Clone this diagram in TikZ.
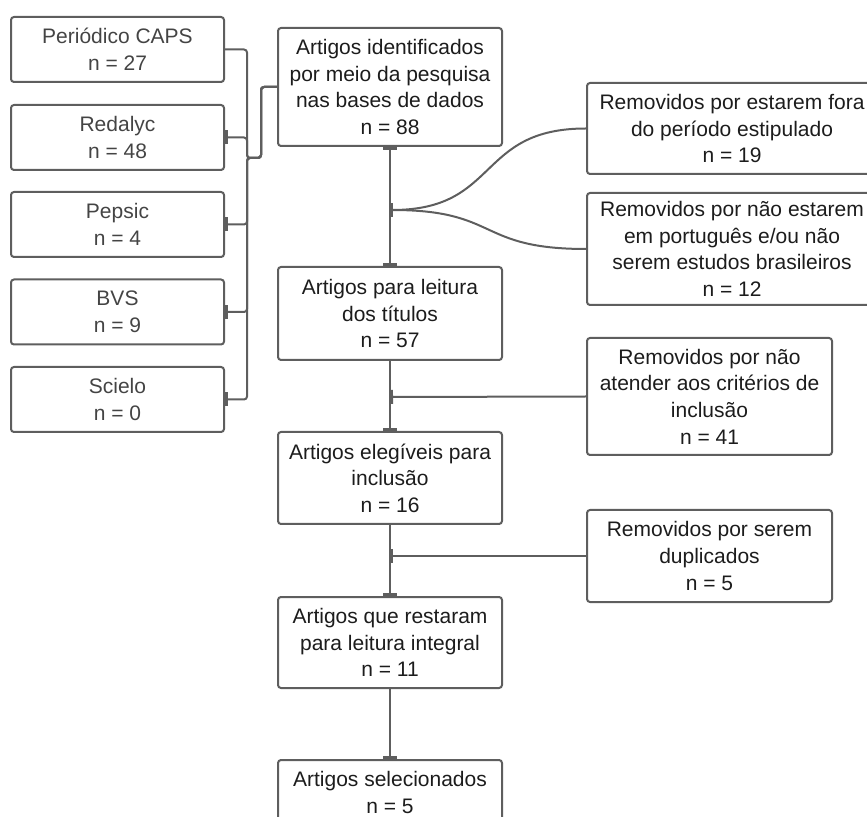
\documentclass[tikz,border=0pt]{standalone}
\usepackage{fontspec}
\setmainfont{Liberation Sans}
\usetikzlibrary{arrows.meta}
\definecolor{linegray}{HTML}{5E5E5E}
\definecolor{srctext}{HTML}{444444}
\definecolor{boxtext}{HTML}{1C1C1C}
\begin{document}
\begin{tikzpicture}[x=0.5pt, y=-0.5pt, font=\fontsize{10.5}{13.3}\selectfont,
	line join=round, line cap=round,
	box/.style={draw=linegray, line width=1pt, rounded corners=1.5pt, align=center, inner sep=0pt, text=boxtext},
	src/.style={box, minimum width=106.5pt, minimum height=32.5pt, text=srctext},
	stage/.style={box, minimum width=112pt},
	drop/.style={box, minimum width=145pt},
	dropn/.style={box, minimum width=122.5pt},
	link/.style={draw=linegray, line width=1pt, rounded corners=1.5pt},
	bartip/.tip={Rectangle[length=1.5pt,width=7pt]}]
	\useasboundingbox (0,0) rectangle (867,817);
	\clip (0,0) rectangle (867,817);
	% bases de dados
	\foreach \n/\y/\t/\v in {caps/49.5/Periódico CAPS/27, redalyc/137.5/Redalyc/48,
		pepsic/224.5/Pepsic/4, bvs/312/BVS/9, scielo/399.5/Scielo/0}
	\node[src] (\n) at (117.5,\y) {\t\\n = \v};
	% etapas
	\node[stage, minimum height=59pt] (ident) at (390,87) {Artigos identificados\\por meio da pesquisa\\nas bases de dados\\n = 88};
	\node[stage, minimum height=46.5pt] (titulos) at (390,313.5) {Artigos para leitura\\dos títulos\\n = 57};
	\node[stage, minimum height=46pt] (elegiveis) at (390,478) {Artigos elegíveis para\\inclusão\\n = 16};
	\node[stage, minimum height=45.5pt] (restaram) at (390,642.5) {Artigos que restaram\\para leitura integral\\n = 11};
	\node[stage, minimum height=32.5pt] (selec) at (390,792.5) {Artigos selecionados\\n = 5};
	% removidos
	\node[drop, minimum height=45.5pt] (fora) at (732,128.5) {Removidos por estarem fora\\do período estipulado\\n = 19};
	\node[drop, minimum height=56pt] (lingua) at (732,249) {Removidos por não estarem\\em português e/ou não\\serem estudos brasileiros\\n = 12};
	\node[dropn, minimum height=58.5pt] (criterio) at (709.5,396.5) {Removidos por não\\atender aos critérios de\\inclusão\\n = 41};
	\node[dropn, minimum height=46pt] (duplic) at (709.5,556) {Removidos por serem\\duplicados\\n = 5};
	\path
	(247,158) coordinate (jl)
	(261,158) coordinate (jr)
	(390,210) coordinate (b1)
	(390,397) coordinate (b2)
	(390,556) coordinate (b3)
	;
	\draw[link] (caps.east) -| (jl) -- (jr) |- (ident.west);
	\foreach \n in {redalyc,pepsic,bvs,scielo}
	\draw[link, bartip-] (\n.east) -| (jl) -- (jr) |- (ident.west);
	\draw[link, bartip-bartip] (ident) -- (titulos);
	\draw[link, -bartip] (titulos) -- (elegiveis);
	\draw[link, -bartip] (elegiveis) -- (restaram);
	\draw[link, -bartip] (restaram) -- (selec);
	\draw[link, bartip-] (b1) .. controls +(110,0) and +(-110,0) .. (fora.west);
	\draw[link, bartip-] (b1) .. controls +(110,0) and +(-110,0) .. (lingua.west);
	\draw[link, bartip-] (b2) -- (criterio.west);
	\draw[link, bartip-] (b3) -- (duplic.west);
\end{tikzpicture}
\end{document}
